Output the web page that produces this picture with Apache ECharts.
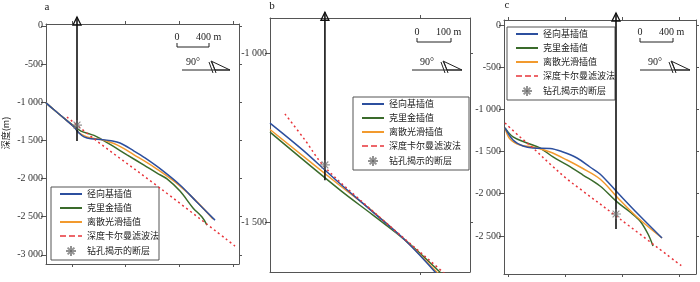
<!DOCTYPE html>
<html><head><meta charset="utf-8">
<script src="https://cdn.jsdelivr.net/npm/echarts@6/dist/echarts.min.js"></script>
<style>html,body{margin:0;padding:0;background:#fff}#c{width:700px;height:282px}</style>
</head><body><div id="c"></div><script>
// ---------- data ----------
const names = ['径向基插值','克里金插值','离散光滑插值','深度卡尔曼滤波法','钻孔揭示的断层'];
const panelLabels = ['a','b','c'];
const yAxisTitle = '深度(m)';
const scaleLabels = ['400 m','100 m','400 m'];
const dipLabel = '90°';

const yTicksA = [0,-500,-1000,-1500,-2000,-2500,-3000];
const yTicksB = [-1000,-1500];
const yTicksC = [0,-500,-1000,-1500,-2000,-2500];
const xTicksA = [0,644,1288,1932];
const xTicksB = [0];
const xTicksC = [0,684,1368,2052];

// panel a
const blueA = [[-312,-1010],[-216,-1100],[-96,-1210],[24,-1325],[84,-1405],[144,-1455],[228,-1480],[348,-1488],[468,-1505],[576,-1535],[744,-1640],[876,-1730],[1080,-1890],[1296,-2085],[1500,-2310],[1716,-2545]];
const greenA = [[-312,-1010],[-216,-1100],[-96,-1210],[24,-1315],[108,-1380],[192,-1410],[264,-1435],[348,-1483],[468,-1560],[660,-1690],[864,-1825],[1020,-1930],[1140,-2005],[1296,-2165],[1452,-2385],[1560,-2505],[1620,-2610]];
const orangeA = [[-312,-1010],[-216,-1100],[-96,-1210],[24,-1325],[84,-1400],[156,-1445],[228,-1470],[348,-1490],[540,-1560],[744,-1690],[984,-1850],[1236,-2045],[1476,-2280],[1692,-2530]];
const redA = [[-60,-1195],[312,-1520],[1056,-2125],[1956,-2885]];
const faultA = [60,-1300];
const wellA = [60,115,-1510]; // x, top, bottom

// panel b
const blueB = [[-442,-1207],[-345,-1287],[-280,-1346],[-236,-1386],[-139,-1470],[-38,-1559],[53,-1657]];
const greenB = [[-442,-1234],[-236,-1405],[-139,-1479],[-38,-1558],[59,-1648],[68,-1657]];
const orangeB = [[-442,-1226],[-236,-1392],[-147,-1462],[-38,-1559],[50,-1648],[59,-1657]];
const redB = [[-398,-1180],[-339,-1257],[-286,-1331],[-186,-1426],[68,-1648],[77,-1657]];
const faultB = [-280,-1331];
const wellB = [-280,-879,-1376];

// panel c
const blueC = [[-36,-1220],[60,-1363],[180,-1434],[300,-1458],[504,-1463],[660,-1505],[828,-1576],[984,-1683],[1104,-1766],[1308,-1979],[1548,-2228],[1848,-2524]];
const greenC = [[-36,-1220],[60,-1327],[228,-1398],[384,-1458],[540,-1564],[708,-1659],[900,-1778],[1104,-1908],[1308,-2097],[1464,-2216],[1584,-2323],[1680,-2477],[1740,-2619]];
const orangeC = [[-36,-1220],[24,-1351],[144,-1422],[300,-1446],[504,-1505],[708,-1600],[888,-1695],[1104,-1825],[1308,-2038],[1548,-2275],[1848,-2524]];
const redC = [[-36,-1161],[144,-1327],[300,-1458],[504,-1647],[708,-1825],[864,-1943],[1344,-2299],[2100,-2868]];
const faultC = [1296,-2240];
const wellC = [1296,142,-2417];

// ---------- style ----------
const SERIF = '"Liberation Serif","Times New Roman",serif';
const CJK = '"Noto Sans CJK SC","Noto Sans",sans-serif';
const COL = {blue:'#2c4f9e', green:'#3a6b2b', orange:'#f29a2e', red:'#e8343a', axis:'#555', ink:'#222'};
const STAR = 'path://M5,0L5,10M0,5L10,5M1.6,1.6L8.4,8.4M1.6,8.4L8.4,1.6M4,4L6,4L6,6L4,6Z';

const grids = [
  {left:46, top:24, width:193, height:240},
  {left:270, top:18, width:200, height:254},
  {left:504, top:20, width:192, height:254}
];
const ranges = [
  {xmin:-312, xmax:2004, ymin:-3120, ymax:24, xt:xTicksA, yt:yTicksA},
  {xmin:-442, xmax:148, ymin:-1648, ymax:-896, xt:xTicksB, yt:yTicksB},
  {xmin:-48, xmax:2256, ymin:-2951, ymax:59, xt:xTicksC, yt:yTicksC}
];

function fmt(v){ const a=Math.abs(v); let s=String(a); if(a>=1000) s=s.slice(0,-3)+' '+s.slice(-3); return (v<0?'-':'')+s; }
const axLine = {show:true, onZero:false, lineStyle:{color:COL.axis, width:1}};

const xAxes=[], yAxes=[];
ranges.forEach((r,g)=>{
  ['bottom','top'].forEach(p=>xAxes.push({type:'value', gridIndex:g, position:p, min:r.xmin, max:r.xmax,
    axisLine:axLine, axisTick:{show:true, customValues:r.xt, length:3, lineStyle:{color:COL.axis}},
    axisLabel:{show:false}, splitLine:{show:false}}));
  yAxes.push({type:'value', gridIndex:g, position:'left', min:r.ymin, max:r.ymax,
    axisLine:axLine, axisTick:{show:true, customValues:r.yt, length:5, lineStyle:{color:COL.axis}},
    axisLabel:{show:true, customValues:r.yt, formatter:fmt, fontFamily:SERIF, fontSize:10, color:'#333', margin:3},
    splitLine:{show:false}});
  yAxes.push({type:'value', gridIndex:g, position:'right', min:r.ymin, max:r.ymax,
    axisLine:axLine, axisTick:{show:true, customValues:r.yt, length:3, lineStyle:{color:COL.axis}},
    axisLabel:{show:false}, splitLine:{show:false}});
});

function curve(name, data, color, g, dashed){
  return {type:'line', name, data, xAxisIndex:g*2, yAxisIndex:g*2, smooth:0.35, symbol:'none', silent:true,
    lineStyle:{color, width:1.5, type: dashed?[2,3]:'solid'}, itemStyle:{color}, z: dashed?4:3};
}
function fault(pt, g){
  return {type:'scatter', name:names[4], data:[pt], xAxisIndex:g*2, yAxisIndex:g*2, symbol:STAR, symbolSize:10, silent:true,
    itemStyle:{color:'#222', borderColor:'#777', borderWidth:1.2}, z:6};
}
function well(w, g){
  return {type:'line', data:[{value:[w[0],w[2]], symbol:'none'},{value:[w[0],w[1]], symbol:'triangle', symbolSize:[8,8], symbolOffset:[0,4]}],
    xAxisIndex:g*2, yAxisIndex:g*2, clip:false, silent:true, symbol:'triangle',
    lineStyle:{color:'#111', width:1.6}, itemStyle:{color:'rgba(255,255,255,0)', borderColor:'#111', borderWidth:1.3}, z:5};
}
const panels = [[blueA,greenA,orangeA,redA,faultA,wellA],[blueB,greenB,orangeB,redB,faultB,wellB],[blueC,greenC,orangeC,redC,faultC,wellC]];
const series=[];
panels.forEach((p,g)=>{
  series.push(curve(names[1], p[1], COL.green, g));
  series.push(curve(names[2], p[2], COL.orange, g));
  series.push(curve(names[0], p[0], COL.blue, g));
  series.push(curve(names[3], p[3], COL.red, g, true));
  series.push(fault(p[4], g));
  series.push(well(p[5], g));
});

const hideSym = {opacity:0, color:'rgba(0,0,0,0)', borderWidth:0};
const legendData = names.map((n,i) => i===4 ? n :
  (i===3 ? {name:n, itemStyle:hideSym, lineStyle:{type:[6,3], width:1.5}} : {name:n, itemStyle:hideSym}));
function legend(left, top, padR){
  return {data:legendData, left, top, orient:'vertical', itemWidth:22, itemHeight:10, itemGap:4,
    padding:[2,padR,3,8], borderColor:'#555', borderWidth:1, backgroundColor:'#fff', selectedMode:false,
    textStyle:{fontFamily:CJK, fontSize:9, color:'#222', lineHeight:10}};
}

// ---------- decorations ----------
const graphic=[];
function txt(x,y,t,size,align,font){ graphic.push({type:'text', x, y, silent:true, style:{text:t, fill:COL.ink, font:size+'px '+(font||SERIF), align:align||'center', verticalAlign:'middle'}}); }
function scaleBar(x1,x2,y,label){
  graphic.push({type:'polyline', silent:true, shape:{points:[[x1,y-4],[x1,y],[x2,y],[x2,y-4]]}, style:{stroke:COL.ink, fill:null, lineWidth:1}});
  txt(x1,y-10,'0',10);
  txt(x1+19,y-10,label,10,'left');
}
function dip(x1,x2,y,tc){
  graphic.push({type:'line', silent:true, shape:{x1,y1:y,x2,y2:y}, style:{stroke:COL.ink, lineWidth:1}});
  graphic.push({type:'polygon', silent:true, shape:{points:[[x2-19,y-9],[x2,y],[x2-15,y]]}, style:{fill:null, stroke:COL.ink, lineWidth:1}});
  graphic.push({type:'line', silent:true, shape:{x1:x2-21,y1:y-8,x2:x2-17,y2:y+3}, style:{stroke:COL.ink, lineWidth:1}});
  graphic.push({type:'line', silent:true, shape:{x1:x2-18,y1:y-8,x2:x2-14,y2:y+3}, style:{stroke:COL.ink, lineWidth:1}});
  txt(tc,y-8,dipLabel,10);
}
txt(47,7,panelLabels[0],11); txt(272,6,panelLabels[1],11); txt(507,5,panelLabels[2],11);
graphic.push({type:'text', x:6, y:133, rotation:Math.PI/2, silent:true, style:{text:yAxisTitle, fill:COL.ink, font:'9px '+CJK, align:'center', verticalAlign:'middle'}});
scaleBar(177,209,47,scaleLabels[0]); dip(182,230,70,193);
scaleBar(417,451,42,scaleLabels[1]); dip(412,462,70,427);
scaleBar(640,673,42,scaleLabels[2]); dip(640,690,70,655);

const chart = echarts.init(document.getElementById('c'), null, {renderer:'canvas'});
chart.setOption({
  animation:false, backgroundColor:'#fff',
  grid:grids, xAxis:xAxes, yAxis:yAxes, series,
  legend:[legend(51,187,0), legend(353,97,8), legend(507,27,0)],
  graphic
});
</script></body></html>
